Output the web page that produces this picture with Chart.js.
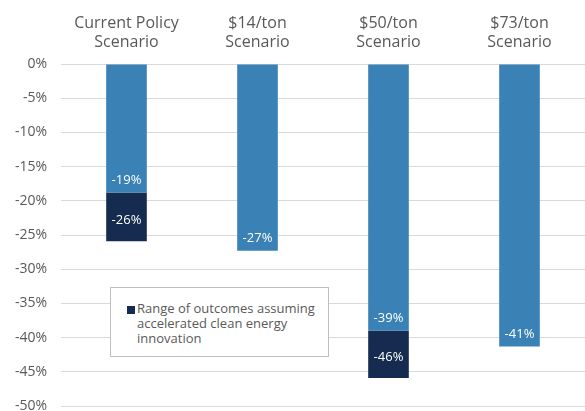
<!DOCTYPE html>
<html>
<head>
<meta charset="utf-8">
<script src="https://cdn.jsdelivr.net/npm/chart.js@4.4.1/dist/chart.umd.min.js"></script>
<style>
  html, body { margin: 0; padding: 0; background: #fff; }
  #wrap { position: relative; width: 585px; height: 411px; }
  #legendBox {
    position: absolute; left: 110px; top: 287px; width: 219px; height: 70px;
    background: #fff; border: 1px solid #bfbfbf; box-sizing: border-box;
    font-family: "Open Sans", sans-serif; font-size: 13px; line-height: 15px; color: #595959;
    padding: 13px 0 0 26px;
  }
  #legendBox .sq {
    position: absolute; left: 16px; top: 18px; width: 8px; height: 8px; background: #152b4f;
  }
</style>
</head>
<body>
<div id="wrap">
  <canvas id="chart" width="585" height="411"></canvas>
  <div id="legendBox"><span class="sq"></span>Range of outcomes assuming accelerated clean energy innovation</div>
</div>
<script>
// scenario categories (two-line labels)
const categories = [
  ['Current Policy', 'Scenario'],
  ['$14/ton', 'Scenario'],
  ['$50/ton', 'Scenario'],
  ['$73/ton', 'Scenario']
];
// emissions change under each scenario (%)
const baseValues = [-18.8, -27.3, -39.0, -41.3];
// accelerated innovation range: [from, to]
const innovationRange = [[-18.8, -25.9], null, [-39.0, -45.9], null];

const lightBlue = '#3a81b5';
const navy = '#152b4f';
const grey = '#595959';

// draws the white % labels inside the bars
const barLabels = {
  id: 'barLabels',
  afterDatasetsDraw(chart) {
    const ctx = chart.ctx;
    ctx.save();
    ctx.fillStyle = '#fff';
    ctx.font = '13px "Open Sans", sans-serif';
    ctx.textAlign = 'center';
    ctx.textBaseline = 'middle';
    chart.data.datasets.forEach((ds, di) => {
      const meta = chart.getDatasetMeta(di);
      meta.data.forEach((bar, i) => {
        const v = ds.data[i];
        if (v === null) return;
        const end = Array.isArray(v) ? v[1] : v;
        const txt = Math.round(end) + '%';
        let y;
        if (Array.isArray(v)) {
          y = (bar.y + bar.base) / 2 + 3;
        } else {
          y = bar.y - 12;
        }
        ctx.fillText(txt, bar.x, y);
      });
    });
    ctx.restore();
  }
};

new Chart(document.getElementById('chart').getContext('2d'), {
  type: 'bar',
  data: {
    labels: categories,
    datasets: [
      {
        label: 'Scenario',
        data: baseValues,
        backgroundColor: lightBlue,
        grouped: false,
        categoryPercentage: 1,
        barPercentage: 0.31
      },
      {
        label: 'Range of outcomes assuming accelerated clean energy innovation',
        data: innovationRange,
        backgroundColor: navy,
        grouped: false,
        categoryPercentage: 1,
        barPercentage: 0.31
      }
    ]
  },
  options: {
    responsive: false,
    animation: false,
    layout: { padding: { bottom: 5, right: 0, left: 0, top: 0 } },
    plugins: {
      legend: { display: false },
      tooltip: { enabled: false }
    },
    scales: {
      x: {
        position: 'top',
        grid: { display: false, drawTicks: false },
        border: { display: false },
        ticks: {
          color: grey,
          font: { family: '"Open Sans", sans-serif', size: 16 },
          padding: 12,
          maxRotation: 0
        },
        afterFit: s => { s.height = 64; }
      },
      y: {
        min: -50,
        max: 0,
        grid: { color: '#d9d9d9', lineWidth: 1, drawTicks: false },
        border: { display: false },
        ticks: {
          stepSize: 5,
          color: grey,
          font: { family: '"Open Sans", sans-serif', size: 14 },
          padding: 14,
          callback: v => v + '%'
        },
        afterFit: s => { s.width = 61; s.paddingTop = 0; s.paddingBottom = 0; }
      }
    }
  },
  plugins: [barLabels]
});
</script>
</body>
</html>
